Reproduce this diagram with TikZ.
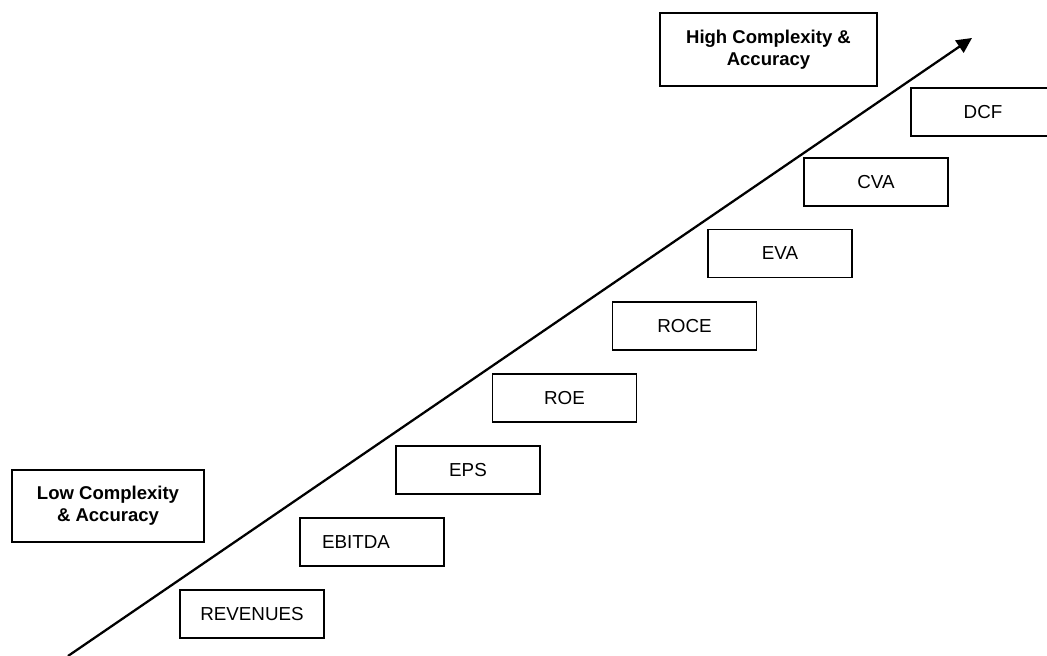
\documentclass[tikz,border=0pt]{standalone}
\usepackage{fontspec}
\setmainfont{Liberation Sans}
\usetikzlibrary{arrows.meta,positioning}

\begin{document}
\begin{tikzpicture}[x=0.75pt, y=-0.75pt,
  metric/.style={draw=black, line width=1.4pt, minimum width=108pt, minimum height=36pt,
                 inner sep=0pt, align=center, font=\fontsize{14.1}{16.75}\selectfont},
  level/.style={draw=black, line width=1.4pt, inner sep=0pt, align=center,
                font=\bfseries\fontsize{13.9}{16.75}\selectfont},
  trend/.style={-{Triangle[length=11.5pt, width=11pt]}, line width=1.7pt}]
  \useasboundingbox (0,0) rectangle (1047,656);
  % metrics, from simple to complex
  \node[metric] (rev)    at (252,614)   {REVENUES};
  \node[metric, align=left, text width=75pt, inner xsep=16.5pt] (ebitda) at (372,542) {EBITDA};
  \node[metric] (eps)    at (468,470)   {EPS};
  \node[metric] (roe)    at (564.5,398) {ROE};
  \node[metric] (roce)   at (684.5,326) {ROCE};
  \node[metric] (eva)    at (780,253.5) {EVA};
  \node[metric] (cva)    at (876,182)   {CVA};
  \node[metric] (dcf)    at (983,112)   {DCF};
  % end labels
  \node[level, minimum width=162.75pt, minimum height=54.75pt] (high) at (768.5,49.5)
       {High Complexity \&\\ Accuracy};
  \node[level, minimum width=144pt, minimum height=54pt] (low) at (108,506)
       {Low Complexity\\ \& Accuracy};
  % the trend arrow
  \coordinate (start) at (68,656);
  \coordinate (tip) at (972,38);
  \draw[trend] (start) -- (tip);
\end{tikzpicture}
\end{document}
